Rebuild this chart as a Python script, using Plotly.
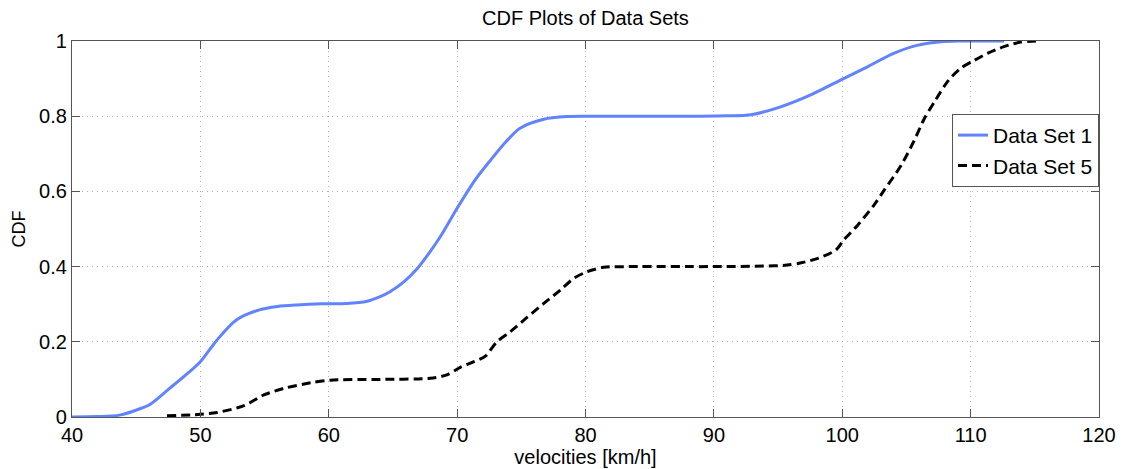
import plotly.graph_objects as go

# Data Set 1
vel_1 = [40, 42, 43.7, 45.3, 46.1, 47.6, 48.8, 50, 51.3, 52.8, 54.6, 56, 57.5, 59.5, 61.4, 63, 64,
         64.8, 65.8, 66.9, 67.9, 68.7, 70, 71.5, 72.6, 73.8, 74.9, 76.75, 78.6, 80, 85, 89, 91,
         92.9, 95.2, 97.5, 100.1, 102, 104, 105.9, 107.7, 109, 110.5, 112.6]
cdf_1 = [0, 0.001, 0.005, 0.022, 0.034, 0.076, 0.11, 0.147, 0.205, 0.258, 0.285, 0.294, 0.298,
         0.301, 0.302, 0.308, 0.32, 0.334, 0.358, 0.395, 0.44, 0.48, 0.555, 0.635, 0.683, 0.732,
         0.768, 0.792, 0.799, 0.8, 0.8, 0.8, 0.801, 0.804, 0.825, 0.856, 0.9, 0.932, 0.967, 0.989,
         0.998, 1.0, 1.0, 1.0]

# Data Set 5
vel_5 = [47.4, 50, 51.3, 53.4, 54.9, 56.5, 58.6, 60.1, 64, 67.9, 69.2, 70.25, 71.3, 72.2, 73.1,
         74.15, 75.45, 76.75, 78.05, 79.1, 80.1, 81.4, 83.5, 90, 94.7, 95.7, 96.8, 98.1, 99.5,
         100.1, 101.2, 102.5, 103.2, 104.6, 105.6, 106.4, 107.2, 108.2, 109.2, 110.1, 111.3,
         112.6, 113.9, 115.2]
cdf_5 = [0.003, 0.007, 0.012, 0.03, 0.058, 0.076, 0.091, 0.098, 0.1, 0.103, 0.112, 0.132, 0.147,
         0.162, 0.2, 0.227, 0.265, 0.302, 0.338, 0.369, 0.386, 0.398, 0.4, 0.4, 0.402, 0.404, 0.41,
         0.422, 0.444, 0.47, 0.51, 0.565, 0.6, 0.67, 0.735, 0.794, 0.839, 0.892, 0.927, 0.945,
         0.967, 0.985, 0.997, 1.0]

x_ticks = [40, 50, 60, 70, 80, 90, 100, 110, 120]
y_ticks = [0, 0.2, 0.4, 0.6, 0.8, 1]
y_tick_labels = ["0", "0.2", "0.4", "0.6", "0.8", "1"]

FONT = "Liberation Sans, Arial, Helvetica, sans-serif"

fig = go.Figure()
fig.add_trace(go.Scatter(x=vel_1, y=cdf_1, mode="lines", name="Data Set 1",
                         line=dict(color="#6283ff", width=3, shape="spline", smoothing=0.8)))
fig.add_trace(go.Scatter(x=vel_5, y=cdf_5, mode="lines", name="Data Set 5",
                         line=dict(color="black", width=3, dash="9px,5px",
                                   shape="spline", smoothing=0.8)))

axis_common = dict(showline=True, linecolor="#555555", linewidth=1.2, mirror="ticks",
                   ticks="inside", ticklen=8, tickcolor="#555555", tickwidth=1.2,
                   showgrid=True, gridcolor="#b4b4b4", griddash="1px,4px", gridwidth=1,
                   zeroline=False, automargin=False,
                   tickfont=dict(family=FONT, size=20, color="black"))

fig.update_xaxes(range=[40, 120], tickvals=x_ticks,
                 title=dict(text="velocities [km/h]", font=dict(family=FONT, size=20, color="black"),
                            standoff=2),
                 **axis_common)
fig.update_yaxes(range=[0, 1], tickvals=y_ticks, ticktext=y_tick_labels,
                 title=dict(text="CDF", font=dict(family=FONT, size=18, color="black"), standoff=8),
                 **axis_common)

fig.update_layout(
    width=1127, height=469,
    margin=dict(l=72, r=28, t=41, b=52),
    paper_bgcolor="white", plot_bgcolor="white",
    title=dict(text="CDF Plots of Data Sets", x=0.5195, xanchor="center", y=0.962, yanchor="middle",
               font=dict(family=FONT, size=20, color="black")),
    legend=dict(x=1, xanchor="right", y=0.806, yanchor="top",
                bgcolor="white", bordercolor="#555555", borderwidth=1,
                font=dict(family=FONT, size=21, color="black"),
                tracegroupgap=0, itemwidth=30),
    showlegend=True,
)

fig.write_html("out.html")
